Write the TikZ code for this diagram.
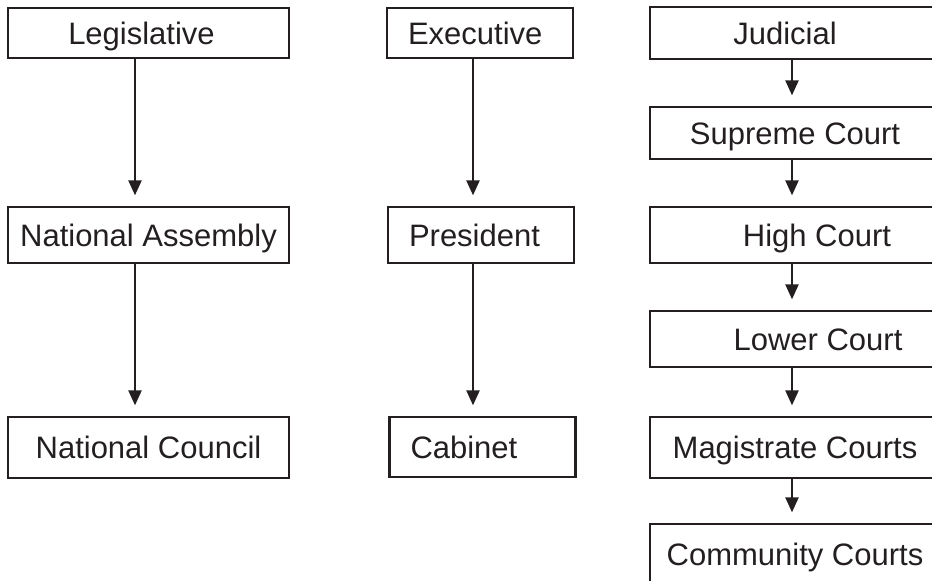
\documentclass[tikz,border=0pt]{standalone}
\usepackage{fontspec}
\setmainfont{Liberation Sans}
\usepackage{xcolor}
\usetikzlibrary{arrows.meta}
\definecolor{ink}{RGB}{35,31,32}

\begin{document}
\begin{tikzpicture}[x=1pt,y=-1pt,
  box/.style={draw=ink,text=ink,line width=2.3pt,minimum width=281pt,inner sep=0pt,
    font=\fontsize{31}{37}\selectfont,text height=22pt,text depth=0pt},
  exbox/.style={box,minimum width=186pt,text width=144pt,align=left},
  jbox/.style={box,minimum width=290pt},
  link/.style={draw=ink,line width=2.3pt,-{Triangle[length=15pt,width=13pt]},shorten >=10.5pt}]
\useasboundingbox (0,0) rectangle (932,581);
\clip (0,0) rectangle (932,581);

% Legislative branch
\node[box,minimum height=50pt] (leg) at (148.5,33) {Legislative\hspace*{14pt}};
\node[box,minimum height=56pt] (nassembly) at (148.5,235) {National Assembly};
\node[box,minimum height=61pt] (ncouncil) at (148.5,447.5) {National Council};

% Executive branch
\node[exbox,minimum height=50pt] (exec) at (480,33) {Executive};
\node[exbox,minimum height=56pt] (pres) at (481,235) {President};
\node[exbox,minimum height=60pt] (cab) at (482.5,447) {Cabinet};

% Judicial branch
\node[jbox,minimum height=52pt] (jud) at (795,33) {Judicial\hspace*{20pt}};
\node[jbox,minimum height=52pt] (supreme) at (795,133) {Supreme Court};
\node[jbox,minimum height=56pt] (high) at (795,235) {\hspace*{44pt}High Court};
\node[jbox,minimum height=56pt] (lower) at (795,339) {\hspace*{46pt}Lower Court};
\node[jbox,minimum height=61pt] (magis) at (795,447.5) {Magistrate Courts};
\node[jbox,minimum height=60pt] (community) at (795,554) {Community Courts};

\draw[link] ([xshift=-13.5pt]leg.south) -- ([xshift=-13.5pt]nassembly.north);
\draw[link] ([xshift=-13.5pt]nassembly.south) -- ([xshift=-13.5pt]ncouncil.north);
\draw[link] ([xshift=-7pt]exec.south) -- ([xshift=-8pt]pres.north);
\draw[link] ([xshift=-8pt]pres.south) -- ([xshift=-9.5pt]cab.north);
\foreach \a/\b in {jud/supreme,supreme/high,high/lower,lower/magis,magis/community} {
    \draw[link] ([xshift=-3pt]\a.south) -- ([xshift=-3pt]\b.north);
}
\end{tikzpicture}
\end{document}
